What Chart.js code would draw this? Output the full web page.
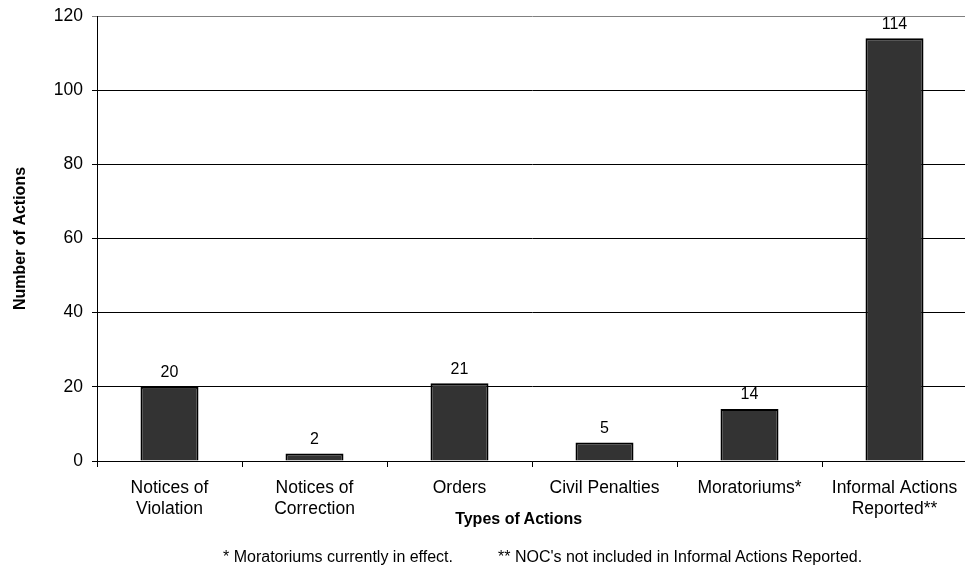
<!DOCTYPE html>
<html>
<head>
<meta charset="utf-8">
<script src="https://cdn.jsdelivr.net/npm/chart.js@4/dist/chart.umd.min.js"></script>
<style>
  html, body { margin: 0; padding: 0; background: #fff; overflow: hidden; width: 965px; height: 566px; }
  #wrap { position: relative; width: 965px; height: 566px; }
  canvas { position: absolute; left: 0; top: 0; }
  .txt { position: absolute; font-family: "Liberation Sans", Arial, sans-serif; color: #000; white-space: nowrap; line-height: 20px; }
  #xtitle { font-weight: bold; font-size: 16px; top: 508.5px; left: 518.7px; transform: translateX(-50%); }
  .note { font-size: 16px; top: 546.5px; }
</style>
</head>
<body>
<div id="wrap">
  <canvas id="c" width="967" height="566"></canvas>
  <div id="xtitle" class="txt">Types of Actions</div>
  <div class="txt note" style="left:223px;">* Moratoriums currently in effect.</div>
  <div class="txt note" style="left:498px;">** NOC's not included in Informal Actions Reported.</div>
</div>
<script>
const categories = [
  ['Notices of', 'Violation'],
  ['Notices of', 'Correction'],
  'Orders',
  'Civil Penalties',
  'Moratoriums*',
  ['Informal Actions', 'Reported**']
];
const actionCounts = [20, 2, 21, 5, 14, 114];
const yMin = 0;
const yMax = 120;
const yStep = 20;
const yTitle = 'Number of Actions';

const FONT = '"Liberation Sans", Arial, sans-serif';

const valueLabels = {
  id: 'valueLabels',
  afterDatasetsDraw(chart) {
    const ctx = chart.ctx;
    const meta = chart.getDatasetMeta(0);
    ctx.save();
    ctx.font = '16px ' + FONT;
    ctx.fillStyle = '#000';
    ctx.textAlign = 'center';
    ctx.textBaseline = 'middle';
    meta.data.forEach((bar, i) => {
      ctx.fillText(String(actionCounts[i]), bar.x, bar.y - 14);
    });
    ctx.restore();
  }
};

new Chart(document.getElementById('c'), {
  type: 'bar',
  data: {
    labels: categories,
    datasets: [{
      data: actionCounts,
      backgroundColor: '#333333',
      borderColor: '#000000',
      borderWidth: 2,
      barPercentage: 0.4,
      categoryPercentage: 1.0
    }]
  },
  options: {
    responsive: false,
    animation: false,
    devicePixelRatio: 1,
    layout: { padding: { top: 16, left: 0, right: 0, bottom: 0 } },
    plugins: {
      legend: { display: false },
      tooltip: { enabled: false },
      title: { display: false }
    },
    scales: {
      x: {
        offset: true,
        afterFit(scale) { scale.height = 105; scale.paddingLeft = 0; scale.paddingRight = 0; },
        grid: {
          offset: true,
          drawOnChartArea: false,
          drawTicks: true,
          tickLength: 6,
          color: '#000'
        },
        border: { display: true, color: '#000', width: 1 },
        ticks: {
          color: '#000',
          padding: 10.5,
          maxRotation: 0,
          autoSkip: false,
          font: { family: FONT, size: 17.5, lineHeight: 1.2 }
        }
      },
      y: {
        min: yMin,
        max: yMax,
        afterFit(scale) { scale.width = 97; scale.paddingTop = 0; scale.paddingBottom = 0; },
        grid: {
          color: (c) => (c.tick && c.tick.value === yMax) ? '#808080' : '#000',
          lineWidth: 1,
          tickLength: 5,
          drawTicks: true
        },
        border: { display: true, color: '#000', width: 1 },
        ticks: {
          stepSize: yStep,
          color: '#000',
          padding: 9,
          font: { family: FONT, size: 17.5 }
        },
        title: {
          display: true,
          text: yTitle,
          color: '#000',
          padding: { top: 11, bottom: 0 },
          font: { family: FONT, size: 16, weight: 'bold', lineHeight: 1.2 }
        }
      }
    }
  },
  plugins: [valueLabels]
});
</script>
</body>
</html>
